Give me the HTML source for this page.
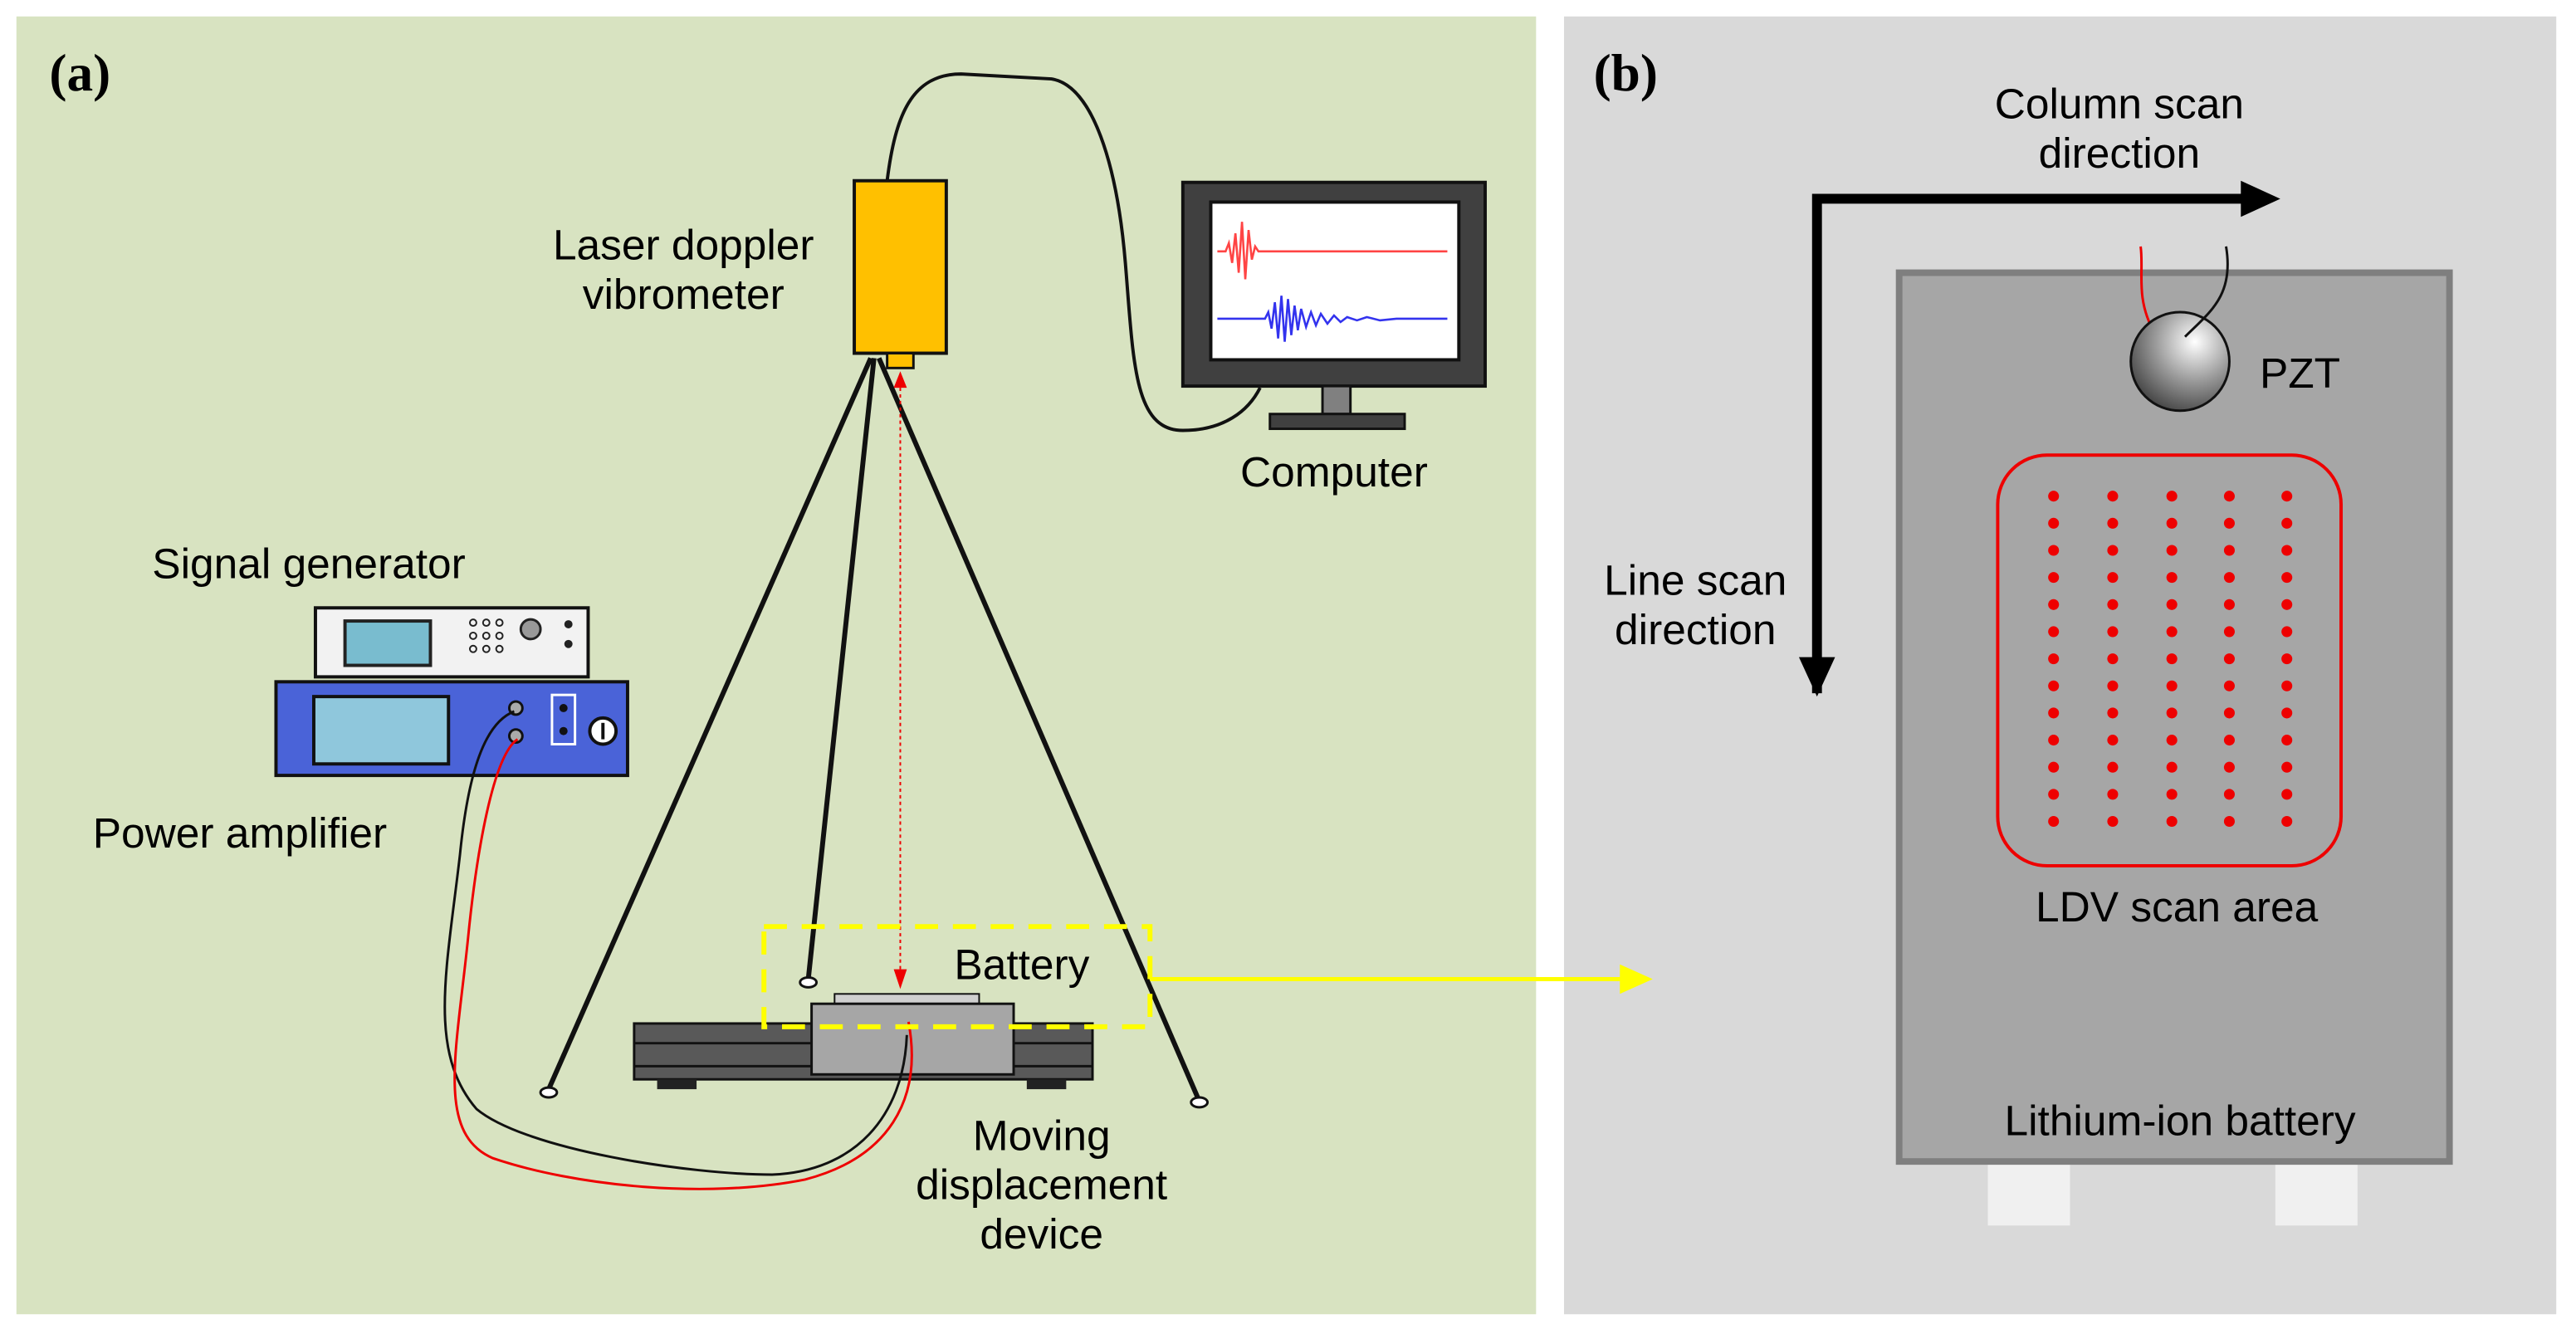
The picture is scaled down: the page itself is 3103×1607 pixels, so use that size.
<!DOCTYPE html>
<html><head><meta charset="utf-8"><style>html,body{margin:0;padding:0;background:#fff}svg{display:block}</style></head>
<body>
<svg width="3103" height="1607" viewBox="0 0 1568 812" xmlns="http://www.w3.org/2000/svg" font-family="Liberation Sans, sans-serif">
<defs>
<radialGradient id="pz" cx="0.65" cy="0.3" r="0.8"><stop offset="0" stop-color="#fff"/><stop offset="0.5" stop-color="#9a9a9a"/><stop offset="1" stop-color="#3a3a3a"/></radialGradient>
<marker id="ra" markerWidth="8" markerHeight="8" refX="4" refY="4" orient="auto" markerUnits="userSpaceOnUse"><path d="M0,0 L8,4 L0,8 z" fill="#e00"/></marker>
</defs>
<rect x="0" y="0" width="1568" height="812" fill="#fff"/>
<rect x="10" y="10" width="925" height="790" fill="#d8e3c1"/>
<rect x="952" y="10" width="604" height="790" fill="#d9d9d9"/>
<text x="30" y="55" font-family="Liberation Serif, serif" font-weight="bold" font-size="32">(a)</text>
<text x="970" y="55" font-family="Liberation Serif, serif" font-weight="bold" font-size="32">(b)</text>

<!-- LDV cable -->
<path d="M540,110 C545,70 555,45 585,45 L640,48 C665,52 680,100 685,160 C690,220 690,262 720,262 C745,262 760,250 767,236" fill="none" stroke="#111" stroke-width="2"/>
<!-- tripod -->
<line x1="530" y1="218" x2="334" y2="663" stroke="#111" stroke-width="3"/>
<line x1="532" y1="218" x2="492" y2="596" stroke="#111" stroke-width="3"/>
<line x1="535" y1="218" x2="729" y2="668" stroke="#111" stroke-width="3"/>
<ellipse cx="334" cy="665" rx="5" ry="3" fill="#fff" stroke="#111" stroke-width="1.5"/>
<ellipse cx="492" cy="598" rx="5" ry="3" fill="#fff" stroke="#111" stroke-width="1.5"/>
<ellipse cx="730" cy="671" rx="5" ry="3" fill="#fff" stroke="#111" stroke-width="1.5"/>
<!-- LDV -->
<rect x="520" y="110" width="56" height="105" fill="#ffc000" stroke="#111" stroke-width="2"/>
<rect x="540" y="215" width="16" height="9" fill="#ffc000" stroke="#111" stroke-width="1.5"/>
<line x1="548" y1="232" x2="548" y2="596" stroke="#e00" stroke-width="1" stroke-dasharray="2,2"/>
<path d="M544,236 L548,226 L552,236 z" fill="#e00"/>
<path d="M544,590 L548,602 L552,590 z" fill="#e00"/>
<text x="416" y="158" font-size="26" text-anchor="middle">Laser doppler</text>
<text x="416" y="188" font-size="26" text-anchor="middle">vibrometer</text>

<!-- monitor -->
<rect x="720" y="111" width="184" height="124" fill="#404040" stroke="#111" stroke-width="2"/>
<rect x="737" y="123" width="151" height="96" fill="#fff" stroke="#111" stroke-width="2"/>
<path d="M741,153 L746,153 L748,148 L750,160 L752,142 L754,166 L756,135 L758,170 L760,140 L762,158 L764,150 L766,153 L881,153" fill="none" stroke="#f44" stroke-width="1.3"/>
<path d="M741,194 L770,194 L772,190 L774,200 L776,184 L778,206 L780,180 L782,208 L784,182 L786,204 L788,186 L790,201 L792,188 L795,199 L798,190 L801,198 L804,191 L808,197 L812,192 L816,196 L820,193 L826,195 L832,193 L840,195 L850,194 L881,194" fill="none" stroke="#33e" stroke-width="1.3"/>
<rect x="805" y="235" width="17" height="17" fill="#808080" stroke="#111" stroke-width="1.5"/>
<rect x="773" y="252" width="82" height="9" fill="#404040" stroke="#111" stroke-width="1.5"/>
<text x="812" y="296" font-size="26" text-anchor="middle">Computer</text>

<!-- signal generator -->
<text x="188" y="352" font-size="26" text-anchor="middle">Signal generator</text>
<rect x="192" y="370" width="166" height="42" fill="#f2f2f2" stroke="#111" stroke-width="2"/>
<rect x="210" y="378" width="52" height="27" fill="#79bccf" stroke="#222" stroke-width="2"/>
<g fill="none" stroke="#222" stroke-width="1">
<circle cx="288" cy="379" r="2"/><circle cx="296" cy="379" r="2"/><circle cx="304" cy="379" r="2"/>
<circle cx="288" cy="387" r="2"/><circle cx="296" cy="387" r="2"/><circle cx="304" cy="387" r="2"/>
<circle cx="288" cy="395" r="2"/><circle cx="296" cy="395" r="2"/><circle cx="304" cy="395" r="2"/>
</g>
<circle cx="323" cy="383" r="6" fill="#999" stroke="#222" stroke-width="1.5"/>
<circle cx="346" cy="380" r="2.5" fill="#222"/><circle cx="346" cy="392" r="2.5" fill="#222"/>
<!-- power amp -->
<rect x="168" y="415" width="214" height="57" fill="#4a63d8" stroke="#111" stroke-width="2"/>
<rect x="191" y="424" width="82" height="41" fill="#8fc7dc" stroke="#111" stroke-width="2"/>
<circle cx="314" cy="431" r="4" fill="#aaa" stroke="#111" stroke-width="1.5"/>
<circle cx="314" cy="448" r="4" fill="#aaa" stroke="#111" stroke-width="1.5"/>
<rect x="336" y="423" width="14" height="30" fill="none" stroke="#fff" stroke-width="1.5"/>
<circle cx="343" cy="431" r="2.5" fill="#111"/><circle cx="343" cy="445" r="2.5" fill="#111"/>
<circle cx="367" cy="445" r="8" fill="#fff" stroke="#111" stroke-width="2"/>
<line x1="367" y1="440" x2="367" y2="450" stroke="#111" stroke-width="2"/>
<text x="146" y="516" font-size="26" text-anchor="middle">Power amplifier</text>

<!-- stage -->
<rect x="386" y="623" width="279" height="34" fill="#595959" stroke="#111" stroke-width="1.5"/>
<line x1="386" y1="635" x2="665" y2="635" stroke="#111" stroke-width="1.5"/>
<line x1="386" y1="649" x2="665" y2="649" stroke="#111" stroke-width="1.5"/>
<rect x="400" y="657" width="24" height="6" fill="#222"/>
<rect x="625" y="657" width="24" height="6" fill="#222"/>
<rect x="508" y="605" width="88" height="7" fill="#d0d0d0" stroke="#111" stroke-width="1"/>
<rect x="494" y="611" width="123" height="43" fill="#a6a6a6" stroke="#111" stroke-width="1.5"/>

<!-- cables -->
<path d="M313,433 C295,440 285,470 280,520 C272,590 260,640 290,675 C320,700 420,715 470,715 C520,713 550,680 552,630" fill="none" stroke="#111" stroke-width="1.5"/>
<path d="M315,450 C300,460 290,520 285,570 C278,640 265,690 300,705 C350,722 430,730 490,718 C540,705 562,670 553,622" fill="none" stroke="#e00" stroke-width="1.5"/>

<!-- yellow box -->
<rect x="465" y="564" width="235" height="61" fill="none" stroke="#ffff00" stroke-width="3" stroke-dasharray="14,9"/>
<text x="622" y="596" font-size="26" text-anchor="middle">Battery</text>
<line x1="700" y1="596" x2="990" y2="596" stroke="#ffff00" stroke-width="2.5"/>
<path d="M986,587 L1006,596 L986,605 z" fill="#ffff00"/>
<text x="634" y="700" font-size="26" text-anchor="middle">Moving</text>
<text x="634" y="730" font-size="26" text-anchor="middle">displacement</text>
<text x="634" y="760" font-size="26" text-anchor="middle">device</text>

<!-- panel b -->
<text x="1290" y="72" font-size="26" text-anchor="middle">Column scan</text>
<text x="1290" y="102" font-size="26" text-anchor="middle">direction</text>
<text x="1032" y="362" font-size="26" text-anchor="middle">Line scan</text>
<text x="1032" y="392" font-size="26" text-anchor="middle">direction</text>
<path d="M1106,422 L1106,121 L1368,121" fill="none" stroke="#000" stroke-width="6"/>
<path d="M1364,110 L1388,121 L1364,132 z" fill="#000"/>
<path d="M1095,400 L1106,424 L1117,400 z" fill="#000"/>

<rect x="1210" y="708" width="50" height="38" fill="#f0f0f0"/>
<rect x="1385" y="708" width="50" height="38" fill="#f0f0f0"/>
<rect x="1156" y="166" width="335" height="541" fill="#a6a6a6" stroke="#7f7f7f" stroke-width="4"/>
<path d="M1310,200 C1300,180 1305,165 1303,150" fill="none" stroke="#e00" stroke-width="1.5"/>
<circle cx="1327" cy="220" r="30" fill="url(#pz)" stroke="#111" stroke-width="1.5"/>
<path d="M1330,205 C1345,190 1360,180 1355,150" fill="none" stroke="#111" stroke-width="1.5"/>
<text x="1400" y="236" font-size="26" text-anchor="middle">PZT</text>
<rect x="1216" y="277" width="209" height="250" rx="30" fill="none" stroke="#e00" stroke-width="2"/>
<g fill="#e00">
<g id="col"><circle cx="1250" cy="302" r="3.3"/><circle cx="1250" cy="318.5" r="3.3"/><circle cx="1250" cy="335" r="3.3"/><circle cx="1250" cy="351.5" r="3.3"/><circle cx="1250" cy="368" r="3.3"/><circle cx="1250" cy="384.5" r="3.3"/><circle cx="1250" cy="401" r="3.3"/><circle cx="1250" cy="417.5" r="3.3"/><circle cx="1250" cy="434" r="3.3"/><circle cx="1250" cy="450.5" r="3.3"/><circle cx="1250" cy="467" r="3.3"/><circle cx="1250" cy="483.5" r="3.3"/><circle cx="1250" cy="500" r="3.3"/></g>
<use href="#col" x="36"/><use href="#col" x="72"/><use href="#col" x="107"/><use href="#col" x="142"/>
</g>
<text x="1325" y="561" font-size="26" text-anchor="middle">LDV scan area</text>
<text x="1327" y="691" font-size="26" text-anchor="middle">Lithium-ion battery</text>
</svg>
</body></html>
